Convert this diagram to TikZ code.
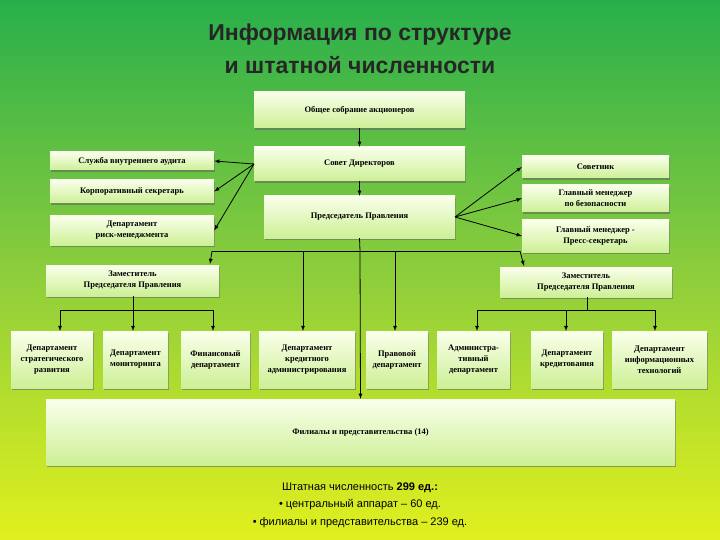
\documentclass[tikz,border=0pt]{standalone}
\usepackage{fontspec}
\setmainfont{Liberation Serif}
\newfontfamily\arialf{Liberation Sans}
\usetikzlibrary{shadows}
\definecolor{bgtop}{RGB}{40,175,75}
\definecolor{bgmid}{RGB}{140,205,60}
\definecolor{bgbot}{RGB}{225,240,30}
\definecolor{boxtop}{RGB}{250,255,235}
\definecolor{boxbot}{RGB}{205,240,150}
\begin{document}
\begin{tikzpicture}[x=1pt,y=-1pt,
 bx/.style={draw=none,top color=boxtop,bottom color=boxbot,
   drop shadow={shadow xshift=1pt,shadow yshift=-2pt,fill=black!60,opacity=.6},
   align=center,font=\fontsize{8.5}{11}\selectfont\bfseries,inner sep=1pt},
 ar/.style={-latex,thick,black}]
\useasboundingbox (0,0) rectangle (720,540);
\shade[top color=bgtop,bottom color=bgbot,middle color=bgmid] (0,0) rectangle (720,540);
\node[font=\arialf\bfseries\fontsize{23}{33}\selectfont,align=center,text=black!85] (title) at (360,49) {Информация по структуре\\и штатной численности};
\newcommand\bxat[6]{\node[bx,minimum width=#3-#2,minimum height=#5-#4] (#1) at ({(#2+#3)/2},{(#4+#5)/2}) {#6};}
\bxat{gm}{254}{465}{92}{128}{Общее собрание акционеров}
\bxat{sd}{254}{465}{147}{181}{Совет Директоров}
\bxat{sl}{50}{214}{152}{170}{Служба внутреннего аудита}
\bxat{ks}{50}{214}{180}{203}{Корпоративный секретарь}
\bxat{rm}{50}{214}{216}{245}{Департамент\\риск-менеджмента}
\bxat{pp}{264}{455}{196}{238}{Председатель Правления}
\bxat{so}{522}{669}{156}{178}{Советник}
\bxat{gb}{522}{669}{185}{212}{Главный менеджер\\по безопасности}
\bxat{gp}{522}{669}{220}{252}{Главный менеджер -\\Пресс-секретарь}
\bxat{zl}{46}{219}{265}{296}{Заместитель\\Председателя Правления}
\bxat{zr}{500}{672}{267}{297}{Заместитель\\Председателя Правления}
\bxat{d1}{11}{93}{331}{388}{Департамент\\стратегического\\развития}
\bxat{d2}{103}{168}{331}{388}{Департамент\\мониторинга}
\bxat{d3}{181}{250}{331}{388}{Финансовый\\департамент}
\bxat{d4}{259}{355}{331}{388}{Департамент\\кредитного\\администрирования}
\bxat{d5}{366}{428}{331}{388}{Правовой\\департамент}
\bxat{d6}{437}{510}{331}{388}{Администра-\\тивный\\департамент}
\bxat{d7}{531}{603}{331}{388}{Департамент\\кредитования}
\bxat{d8}{612}{707}{331}{388}{Департамент\\информационных\\технологий}
\bxat{fl}{46}{675}{399}{465}{Филиалы и представительства (14)}
\node[font=\arialf\fontsize{11}{17.5}\selectfont,align=center] (txt) at (360,505) {Штатная численность \textbf{299 ед.:}\\• центральный аппарат – 60 ед.\\• филиалы и представительства – 239 ед.};
\draw[ar] (gm) -- (sd);
\draw[ar] (sd) -- (pp);
\coordinate (sdl) at (254,164);
\draw[ar] (sdl) -- (sl.east);
\draw[ar] (sdl) -- (ks.east);
\draw[ar] (sdl) -- (rm.east);
\coordinate (ppr) at (455,217);
\draw[ar] (ppr) -- (so.west);
\draw[ar] (ppr) -- (gb.west);
\draw[ar] (ppr) -- (gp.west);
\coordinate (hl) at (212,251); \coordinate (hr) at (520,251);
\coordinate (hc) at (360,251);
\draw[thick] (pp.south) -- (hc);
\draw[thick] (hl) -- (hr);
\draw[ar] (hl) -- (210,264);
\draw[ar] (hr) -- (524,266);
\draw[ar] (303,251) -- (303,331);
\draw[ar] (395,251) -- (395,331);
\draw[ar] (hc) -- (fl.north);
\coordinate (l0) at (133,310); \coordinate (r0) at (587,310);
\draw[thick] (zl.south -| l0) -- (l0);
\draw[thick] (60,310) -- (213,310);
\draw[ar] (60,310) -- (60,331);
\draw[ar] (l0) -- (133,331);
\draw[ar] (213,310) -- (213,331);
\draw[thick] (zr.south -| r0) -- (r0);
\draw[thick] (477,310) -- (655,310);
\draw[ar] (477,310) -- (477,331);
\draw[ar] (566,310) -- (566,331);
\draw[ar] (655,310) -- (655,331);
\end{tikzpicture}
\end{document}
